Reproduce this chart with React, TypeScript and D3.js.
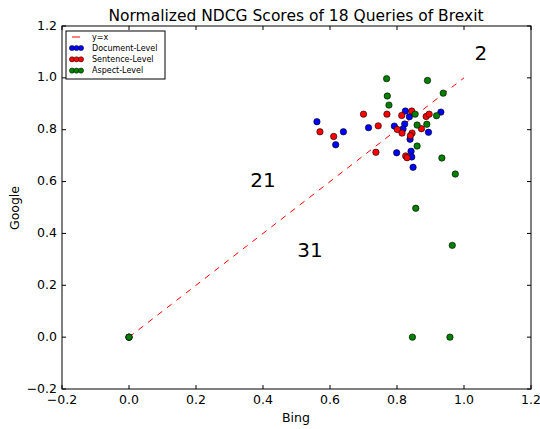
import React from "react";
import * as d3 from "d3";

const xTicks = [-0.2, 0.0, 0.2, 0.4, 0.6, 0.8, 1.0, 1.2];
const yTicks = [-0.2, 0.0, 0.2, 0.4, 0.6, 0.8, 1.0, 1.2];

const docBing = [0.561, 0.640, 0.617, 0.715, 0.825, 0.837, 0.931, 0.792, 0.823, 0.818, 0.839, 0.894, 0.799, 0.842, 0.844, 0.848, 0.0];
const docGoogle = [0.831, 0.792, 0.742, 0.808, 0.872, 0.850, 0.868, 0.814, 0.822, 0.803, 0.763, 0.790, 0.711, 0.717, 0.695, 0.655, 0.0];

const senBing = [0.570, 0.611, 0.700, 0.770, 0.814, 0.844, 0.887, 0.896, 0.744, 0.801, 0.815, 0.845, 0.840, 0.873, 0.737, 0.826, 0.830, 0.0];
const senGoogle = [0.792, 0.774, 0.860, 0.860, 0.855, 0.872, 0.851, 0.860, 0.815, 0.801, 0.787, 0.787, 0.777, 0.804, 0.713, 0.699, 0.692, 0.0];

const aspBing = [0.769, 0.891, 0.938, 0.771, 0.776, 0.854, 0.918, 0.860, 0.889, 0.860, 0.934, 0.974, 0.856, 0.965, 0.846, 0.958, 0.0];
const aspGoogle = [0.997, 0.990, 0.941, 0.930, 0.895, 0.860, 0.854, 0.818, 0.821, 0.737, 0.691, 0.629, 0.497, 0.354, 0.0, 0.0, 0.0];

const seriesNames = ["Document-Level", "Sentence-Level", "Aspect-Level"];
const seriesColors = ["#0000ff", "#ff0000", "#008000"];

const annotations = [
  { text: "2", x: 1.05, y: 1.09 },
  { text: "21", x: 0.40, y: 0.60 },
  { text: "31", x: 0.54, y: 0.33 },
];

const W = 540, H = 429;
const left = 62, right = 531, top = 26, bottom = 389;

export default function App() {
  const x = d3.scaleLinear().domain([-0.2, 1.2]).range([left, right]);
  const y = d3.scaleLinear().domain([-0.2, 1.2]).range([bottom, top]);
  const font = "DejaVu Sans, sans-serif";
  const series = [
    { xs: docBing, ys: docGoogle },
    { xs: senBing, ys: senGoogle },
    { xs: aspBing, ys: aspGoogle },
  ];
  const tickLen = 4;
  const fmt = (t: number) => (t < 0 ? "\u2212" + Math.abs(t).toFixed(1) : t.toFixed(1));
  return (
    <svg width={W} height={H} style={{ position: "absolute", left: 0, top: 0, background: "#fff" }} fontFamily={font}>
      <rect x={0} y={0} width={W} height={H} fill="#fff" />
      <text x={296} y={21} textAnchor="middle" fontSize={15.5}>Normalized NDCG Scores of 18 Queries of Brexit</text>
      <line x1={x(0)} y1={y(0)} x2={x(1)} y2={y(1)} stroke="#ff0000" strokeWidth={1} strokeDasharray="6,6" />
      {series.map((s, si) =>
        s.xs.map((v, i) => (
          <circle key={si + "-" + i} cx={x(v)} cy={y(s.ys[i])} r={3.2} fill={seriesColors[si]} stroke="#000" strokeWidth={0.6} />
        ))
      )}
      {annotations.map((a, i) => (
        <text key={i} x={x(a.x)} y={y(a.y)} textAnchor="middle" dominantBaseline="middle" fontSize={20}>{a.text}</text>
      ))}
      <rect x={left} y={top} width={right - left} height={bottom - top} fill="none" stroke="#000" strokeWidth={1} />
      {xTicks.map((t, i) => (
        <g key={"xt" + i}>
          <line x1={x(t)} x2={x(t)} y1={bottom} y2={bottom - tickLen} stroke="#000" />
          <line x1={x(t)} x2={x(t)} y1={top} y2={top + tickLen} stroke="#000" />
          <text x={x(t)} y={bottom + 15} textAnchor="middle" fontSize={12.5}>{fmt(t)}</text>
        </g>
      ))}
      {yTicks.map((t, i) => (
        <g key={"yt" + i}>
          <line x1={left} x2={left + tickLen} y1={y(t)} y2={y(t)} stroke="#000" />
          <line x1={right} x2={right - tickLen} y1={y(t)} y2={y(t)} stroke="#000" />
          <text x={left - 5} y={y(t)} textAnchor="end" dominantBaseline="middle" fontSize={12.5}>{fmt(t)}</text>
        </g>
      ))}
      <text x={296} y={422} textAnchor="middle" fontSize={12.5}>Bing</text>
      <text transform={`translate(19,208) rotate(-90)`} textAnchor="middle" fontSize={12.5}>Google</text>
      <g>
        <rect x={66} y={31} width={99} height={48} fill="#fff" stroke="#000" strokeWidth={1} />
        <line x1={72} x2={80} y1={37} y2={37} stroke="#ff0000" strokeWidth={1} />
        <text x={92} y={37} dominantBaseline="middle" fontSize={8}>y=x</text>
        {seriesNames.map((n, i) => (
          <g key={n}>
            {[0, 1, 2].map((k) => (
              <circle key={k} cx={72 + k * 4.5} cy={48 + i * 11.3} r={2.6} fill={seriesColors[i]} stroke="#000" strokeWidth={0.5} />
            ))}
            <text x={92} y={48 + i * 11.3} dominantBaseline="middle" fontSize={8}>{n}</text>
          </g>
        ))}
      </g>
    </svg>
  );
}
